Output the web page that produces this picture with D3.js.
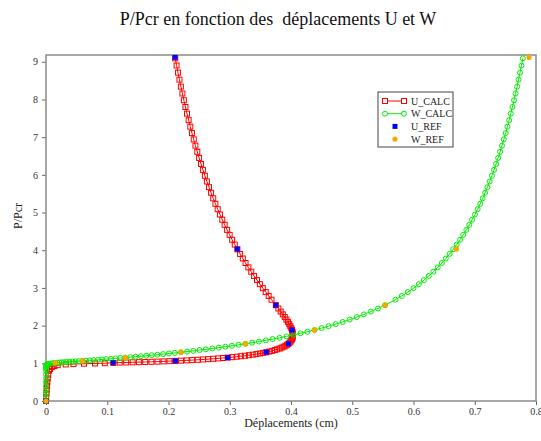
<!DOCTYPE html>
<html>
<head>
<meta charset="utf-8">
<script src="https://cdn.jsdelivr.net/npm/d3@7"></script>
<style>
  body { margin: 0; background: #fff; }
  svg { display: block; font-family: "Liberation Serif", "Times New Roman", serif; }
  .tick text { font-family: "Liberation Serif", "Times New Roman", serif; font-size: 10px; fill: #333; }
  .tick line { stroke: #666; }
</style>
</head>
<body>
<div id="chart"></div>
<script>
// calculated curve (shared load steps)
const P_CALC = [
  0, 0.1, 0.2, 0.3, 0.4, 0.5, 0.6, 0.7, 0.8, 0.85, 0.9, 0.93, 0.95, 0.97, 0.98, 0.99, 0.997, 1.003, 1.010,
  1.0187, 1.0223, 1.0262, 1.0305, 1.0351, 1.0401, 1.0454, 1.0511, 1.0572, 1.0637,
  1.0705, 1.0778, 1.0854, 1.0935, 1.1020, 1.1110, 1.1205, 1.1304, 1.1408, 1.1517,
  1.1632, 1.1752, 1.1878, 1.2009, 1.2147, 1.2292, 1.2443, 1.2601, 1.2766, 1.2939,
  1.3120, 1.3309, 1.3508, 1.3715, 1.3932, 1.4160, 1.4398, 1.4648, 1.4910, 1.5185,
  1.5473, 1.5776, 1.6094, 1.6428, 1.6780, 1.7150, 1.7541, 1.7953, 1.8388, 1.8848,
  1.9335, 1.9852, 2.0390, 2.0983, 2.1604, 2.2266, 2.2974, 2.3732, 2.4546, 2.5423,
  2.6887, 2.7880, 2.8895, 2.9932, 3.0991, 3.2072, 3.3175, 3.4300, 3.5446, 3.6615,
  3.7805, 3.9017, 4.0251, 4.1506, 4.2783, 4.4081, 4.5401, 4.6742, 4.8105, 4.9489,
  5.0894, 5.2321, 5.3769, 5.5238, 5.6728, 5.8239, 5.9771, 6.1325, 6.2899, 6.4494,
  6.6110, 6.7747, 6.9404, 7.1083, 7.2782, 7.4502, 7.6242, 7.8004, 7.9786, 8.1588,
  8.3412, 8.5255, 8.7120, 8.9005, 9.0912
];
const U_CALC = [
  0, 0.0004, 0.0008, 0.0012, 0.0017, 0.0022, 0.0028, 0.0036, 0.005, 0.0065, 0.0095, 0.0135, 0.019, 0.0323, 0.045, 0.062, 0.080, 0.096, 0.110,
  0.1204, 0.1309, 0.1414, 0.1517, 0.1620, 0.1721, 0.1820, 0.1919, 0.2016, 0.2111,
  0.2205, 0.2297, 0.2388, 0.2476, 0.2563, 0.2648, 0.2730, 0.2811, 0.2890, 0.2966,
  0.3040, 0.3112, 0.3181, 0.3248, 0.3313, 0.3375, 0.3435, 0.3492, 0.3546, 0.3597,
  0.3646, 0.3692, 0.3736, 0.3776, 0.3814, 0.3848, 0.3880, 0.3909, 0.3935, 0.3958,
  0.3977, 0.3994, 0.4008, 0.4018, 0.4026, 0.4030, 0.4031, 0.4029, 0.4024, 0.4016,
  0.4004, 0.3989, 0.3971, 0.3950, 0.3925, 0.3898, 0.3866, 0.3832, 0.3794, 0.3752,
  0.3682, 0.3635, 0.3588, 0.3540, 0.3492, 0.3445, 0.3397, 0.3351, 0.3304, 0.3258,
  0.3213, 0.3169, 0.3125, 0.3082, 0.3039, 0.2998, 0.2957, 0.2917, 0.2878, 0.2840,
  0.2803, 0.2766, 0.2730, 0.2695, 0.2661, 0.2627, 0.2594, 0.2562, 0.2531, 0.2500,
  0.2470, 0.2440, 0.2412, 0.2383, 0.2356, 0.2329, 0.2302, 0.2277, 0.2251, 0.2227,
  0.2202, 0.2179, 0.2155, 0.2132, 0.2110
];
const W_CALC = [
  0, 0, 0, 0, 0, 0.0001, 0.0001, 0.0001, 0.0001, 0.0001, 0.0002, 0.0003, 0.0005, 0.0013, 0.0025, 0.0047, 0.0079, 0.0114, 0.0150,
  0.0183, 0.0217, 0.0255, 0.0295, 0.0338, 0.0384, 0.0432, 0.0483, 0.0537, 0.0594,
  0.0653, 0.0715, 0.0779, 0.0846, 0.0915, 0.0986, 0.1060, 0.1136, 0.1215, 0.1295,
  0.1377, 0.1462, 0.1548, 0.1637, 0.1727, 0.1819, 0.1912, 0.2008, 0.2105, 0.2203,
  0.2303, 0.2404, 0.2507, 0.2610, 0.2715, 0.2821, 0.2928, 0.3036, 0.3145, 0.3255,
  0.3365, 0.3477, 0.3589, 0.3701, 0.3814, 0.3927, 0.4041, 0.4155, 0.4270, 0.4384,
  0.4499, 0.4614, 0.4729, 0.4844, 0.4959, 0.5074, 0.5189, 0.5304, 0.5420, 0.5535,
  0.5706, 0.5809, 0.5907, 0.6000, 0.6087, 0.6170, 0.6249, 0.6324, 0.6395, 0.6463,
  0.6528, 0.6589, 0.6648, 0.6705, 0.6760, 0.6812, 0.6863, 0.6911, 0.6957, 0.7003,
  0.7047, 0.7089, 0.7129, 0.7169, 0.7207, 0.7243, 0.7280, 0.7315, 0.7349, 0.7382,
  0.7414, 0.7445, 0.7475, 0.7505, 0.7533, 0.7561, 0.7588, 0.7615, 0.7641, 0.7666,
  0.7692, 0.7715, 0.7739, 0.7762, 0.7785
];

// reference points
const P_REF = [0, 1.0154, 1.0637, 1.1517, 1.2939, 1.5185, 1.8848, 2.5423, 4.0309, 9.1163];
const U_REF = [0, 0.1097, 0.2111, 0.2966, 0.3597, 0.3958, 0.4016, 0.3752, 0.3123, 0.2107];
const W_REF = [0, 0.0151, 0.0594, 0.1295, 0.2203, 0.3255, 0.4384, 0.5535, 0.6703, 0.7886];

const xTicks = [0, 0.1, 0.2, 0.3, 0.4, 0.5, 0.6, 0.7, 0.8];
const yTicks = [0, 1, 2, 3, 4, 5, 6, 7, 8, 9];

const title = 'P/Pcr en fonction des\u00a0 déplacements U et W';
const xLabel = 'Déplacements (cm)';
const yLabel = 'P/Pcr';

const width = 541;
const height = 441;
const margin = {top: 55, right: 5, bottom: 40, left: 46};
const innerWidth = width - margin.left - margin.right;
const innerHeight = height - margin.top - margin.bottom;

const xScale = d3.scaleLinear().domain([0, 0.8]).range([0, innerWidth]);
const yScale = d3.scaleLinear().domain([0, 9.18]).range([innerHeight, 0]);

const calc = P_CALC.map((p, i) => ({p: p, u: U_CALC[i], w: W_CALC[i]}));
const ref = P_REF.map((p, i) => ({p: p, u: U_REF[i], w: W_REF[i]}));

const svg = d3.select('#chart').append('svg')
  .attr('width', width)
  .attr('height', height);

svg.append('rect')
  .attr('width', width).attr('height', height)
  .attr('fill', '#fff');

svg.append('text')
  .attr('x', 278)
  .attr('y', 25)
  .attr('text-anchor', 'middle')
  .style('font-size', '18px')
  .attr('fill', '#111')
  .text(title);

const g = svg.append('g')
  .attr('transform', `translate(${margin.left},${margin.top})`);

const xAxis = d3.axisBottom(xScale)
  .tickValues(xTicks)
  .tickSize(4)
  .tickPadding(3)
  .tickFormat(d => d === 0 ? '0' : d3.format('.1f')(d));

const yAxis = d3.axisLeft(yScale)
  .tickValues(yTicks)
  .tickSize(4)
  .tickPadding(4)
  .tickFormat(d3.format('d'));

const xAxisG = g.append('g')
  .attr('transform', `translate(0,${innerHeight})`)
  .call(xAxis)
  .attr('font-family', null);
const yAxisG = g.append('g')
  .call(yAxis)
  .attr('font-family', null);
xAxisG.select('.domain').remove();
yAxisG.select('.domain').remove();

// frame around the plot
g.append('rect')
  .attr('width', innerWidth)
  .attr('height', innerHeight)
  .attr('fill', 'none')
  .attr('stroke', '#8a8a8a')
  .attr('stroke-width', 1.5);

svg.append('text')
  .attr('x', 291)
  .attr('y', 427)
  .attr('text-anchor', 'middle')
  .style('font-size', '12px')
  .attr('fill', '#222')
  .text(xLabel);

svg.append('text')
  .attr('transform', 'translate(22,216) rotate(-90)')
  .attr('text-anchor', 'middle')
  .style('font-size', '12px')
  .attr('fill', '#222')
  .text(yLabel);

const lineU = d3.line().x(d => xScale(d.u)).y(d => yScale(d.p));
const lineW = d3.line().x(d => xScale(d.w)).y(d => yScale(d.p));

const red = '#ff0000';
const green = '#00ee00';
const blue = '#0000ff';
const orange = '#ffa500';
const sq = 5;

// U_CALC
g.append('path')
  .datum(calc)
  .attr('d', lineU)
  .attr('fill', 'none')
  .attr('stroke', red)
  .attr('stroke-width', 1);
g.append('g').selectAll('rect')
  .data(calc)
  .join('rect')
  .attr('x', d => xScale(d.u) - sq / 2)
  .attr('y', d => yScale(d.p) - sq / 2)
  .attr('width', sq).attr('height', sq)
  .attr('fill', 'none')
  .attr('stroke', red)
  .attr('stroke-width', 1);

// W_CALC
g.append('path')
  .datum(calc)
  .attr('d', lineW)
  .attr('fill', 'none')
  .attr('stroke', green)
  .attr('stroke-width', 1);
g.append('g').selectAll('circle')
  .data(calc)
  .join('circle')
  .attr('cx', d => xScale(d.w))
  .attr('cy', d => yScale(d.p))
  .attr('r', 2.5)
  .attr('fill', 'none')
  .attr('stroke', green)
  .attr('stroke-width', 1);

// U_REF
g.append('g').selectAll('rect')
  .data(ref)
  .join('rect')
  .attr('x', d => xScale(d.u) - sq / 2)
  .attr('y', d => yScale(d.p) - sq / 2)
  .attr('width', sq).attr('height', sq)
  .attr('fill', blue);

// W_REF
g.append('g').selectAll('circle')
  .data(ref)
  .join('circle')
  .attr('cx', d => xScale(d.w))
  .attr('cy', d => yScale(d.p))
  .attr('r', 2.6)
  .attr('fill', orange);

// legend
const legend = svg.append('g').attr('transform', 'translate(378,92)');
legend.append('rect')
  .attr('width', 75).attr('height', 55)
  .attr('fill', '#fff')
  .attr('stroke', '#444')
  .attr('stroke-width', 1);

const items = [
  {name: 'U_CALC', color: red, kind: 'sqline'},
  {name: 'W_CALC', color: green, kind: 'circline'},
  {name: 'U_REF', color: blue, kind: 'sq'},
  {name: 'W_REF', color: orange, kind: 'circ'}
];

items.forEach((it, i) => {
  const y = 9 + i * 12.7;
  const row = legend.append('g').attr('transform', `translate(0,${y})`);
  if (it.kind === 'sqline' || it.kind === 'circline') {
    row.append('line')
      .attr('x1', 7).attr('x2', 26)
      .attr('stroke', it.color).attr('stroke-width', 1);
    [7, 26].forEach(cx => {
      if (it.kind === 'sqline') {
        row.append('rect')
          .attr('x', cx - sq / 2).attr('y', -sq / 2)
          .attr('width', sq).attr('height', sq)
          .attr('fill', '#fff').attr('stroke', it.color);
      } else {
        row.append('circle')
          .attr('cx', cx).attr('r', 2.5)
          .attr('fill', '#fff').attr('stroke', it.color);
      }
    });
  } else if (it.kind === 'sq') {
    row.append('rect')
      .attr('x', 17 - sq / 2).attr('y', -sq / 2)
      .attr('width', sq).attr('height', sq)
      .attr('fill', it.color);
  } else {
    row.append('circle')
      .attr('cx', 17).attr('r', 2.6)
      .attr('fill', it.color);
  }
  row.append('text')
    .attr('x', 33)
    .attr('dy', '0.35em')
    .style('font-size', '10px')
    .attr('fill', '#222')
    .text(it.name);
});
</script>
</body>
</html>
